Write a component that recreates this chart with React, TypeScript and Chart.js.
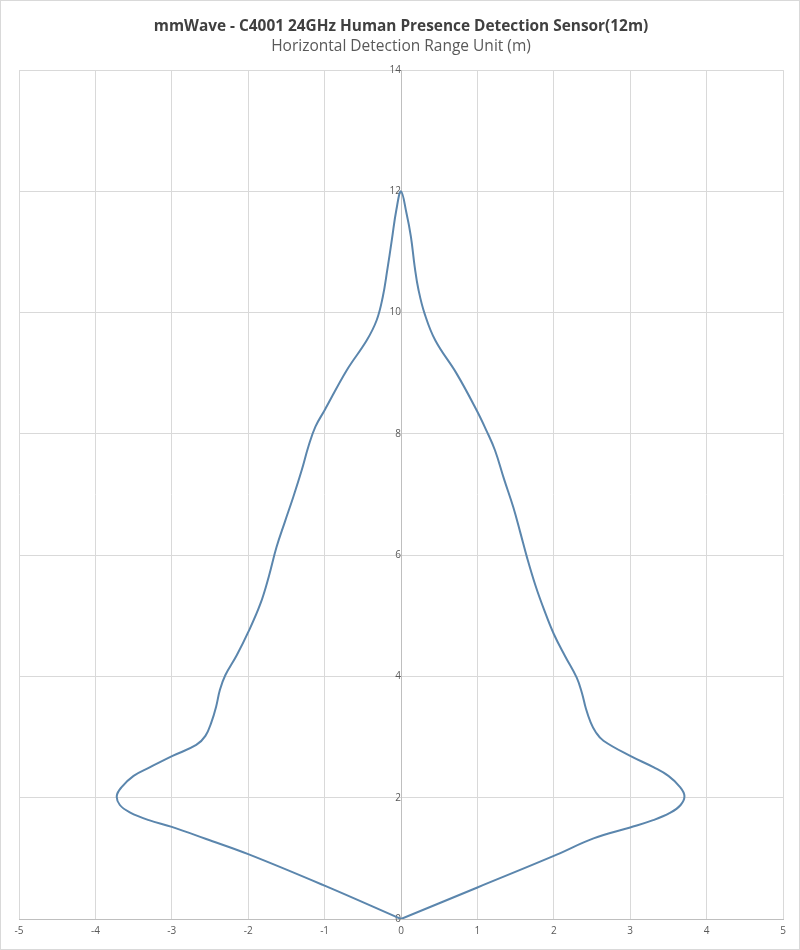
import { useEffect, useRef } from 'react';
import { Chart, registerables } from 'chart.js';

Chart.register(...registerables);

// outline of the detection zone, traced counter-clockwise from the sensor at (0,0)
const leftX = [0, -1, -2, -2.55, -3.0, -3.3, -3.55, -3.68, -3.72, -3.66, -3.5, -3.29, -2.99, -2.68, -2.56, -2.48, -2.42, -2.37, -2.3, -2.15, -2.0, -1.84, -1.73, -1.63, -1.52, -1.41, -1.3, -1.21, -1.12, -1.0, -0.71, -0.45, -0.32, -0.24, -0.18, -0.12, -0.06, 0];
const leftY = [0, 0.55, 1.07, 1.32, 1.52, 1.63, 1.76, 1.88, 2.03, 2.17, 2.36, 2.5, 2.69, 2.87, 3.02, 3.25, 3.5, 3.78, 4.02, 4.35, 4.73, 5.2, 5.65, 6.13, 6.55, 6.96, 7.4, 7.8, 8.12, 8.39, 9.05, 9.54, 9.87, 10.25, 10.7, 11.2, 11.7, 12.0];
const rightX = [0.07, 0.13, 0.18, 0.23, 0.31, 0.45, 0.73, 0.99, 1.12, 1.23, 1.35, 1.47, 1.56, 1.65, 1.76, 1.87, 2.0, 2.15, 2.3, 2.37, 2.42, 2.48, 2.55, 2.65, 3.0, 3.31, 3.5, 3.65, 3.71, 3.66, 3.52, 3.3, 3.0, 2.52, 2.0, 1.0, 0];
const rightY = [11.65, 11.25, 10.75, 10.37, 9.98, 9.54, 8.99, 8.39, 8.05, 7.73, 7.25, 6.79, 6.38, 5.96, 5.5, 5.11, 4.7, 4.33, 3.98, 3.72, 3.47, 3.25, 3.08, 2.94, 2.69, 2.5, 2.36, 2.18, 2.03, 1.88, 1.75, 1.63, 1.51, 1.33, 1.04, 0.52, 0];

const xTicks = [-5, 5, 1];
const yTicks = [0, 14, 2];

const title = 'mmWave - C4001 24GHz Human Presence Detection Sensor(12m)';
const subtitle = 'Horizontal Detection Range Unit (m)';

const FONT = "'Open Sans', sans-serif";

const App = () => {
  const canvasRef = useRef<HTMLCanvasElement>(null);
  const chartRef = useRef<Chart | null>(null);

  useEffect(() => {
    if (!canvasRef.current) return;
    if (chartRef.current) chartRef.current.destroy();

    const points = [
      ...leftX.map((x, i) => ({ x, y: leftY[i] })),
      ...rightX.map((x, i) => ({ x, y: rightY[i] })),
    ];

    chartRef.current = new Chart(canvasRef.current, {
      type: 'scatter',
      data: {
        datasets: [{
          data: points,
          showLine: true,
          borderColor: '#5b86ad',
          borderWidth: 2,
          tension: 0.4,
          pointRadius: 0,
          fill: false,
        }],
      },
      options: {
        animation: false,
        responsive: true,
        maintainAspectRatio: false,
        layout: { padding: { left: 18, right: 16, bottom: 6, top: 0 } },
        plugins: {
          legend: { display: false },
          tooltip: { enabled: false },
          title: {
            display: true,
            text: title,
            color: '#404040',
            font: { family: FONT, size: 15.4, weight: 'bold' },
            padding: { top: 16, bottom: 2 },
          },
          subtitle: {
            display: true,
            text: subtitle,
            color: '#595959',
            font: { family: FONT, size: 15.5 },
            padding: { bottom: 14 },
          },
        },
        scales: {
          x: {
            type: 'linear',
            position: 'bottom',
            min: xTicks[0],
            max: xTicks[1],
            ticks: { stepSize: xTicks[2], color: '#595959', font: { family: FONT, size: 10 }, padding: 6 },
            grid: { color: '#d9d9d9', drawTicks: false },
            border: { color: '#bfbfbf' },
          },
          y: {
            type: 'linear',
            position: { x: 0 },
            min: yTicks[0],
            max: yTicks[1],
            ticks: { stepSize: yTicks[2], color: '#595959', font: { family: FONT, size: 10 }, padding: 4 },
            grid: { color: '#d9d9d9', drawTicks: false },
            border: { color: '#bfbfbf' },
          },
        },
      },
    });

    return () => {
      if (chartRef.current) {
        chartRef.current.destroy();
        chartRef.current = null;
      }
    };
  }, []);

  return (
    <div style={{ position: 'absolute', left: 0, top: 0, width: 800, height: 950, border: '1px solid #d9d9d9', boxSizing: 'border-box', background: '#fff' }}>
      <div style={{ position: 'relative', width: 798, height: 948 }}>
        <canvas ref={canvasRef} />
      </div>
    </div>
  );
};

export default App;
